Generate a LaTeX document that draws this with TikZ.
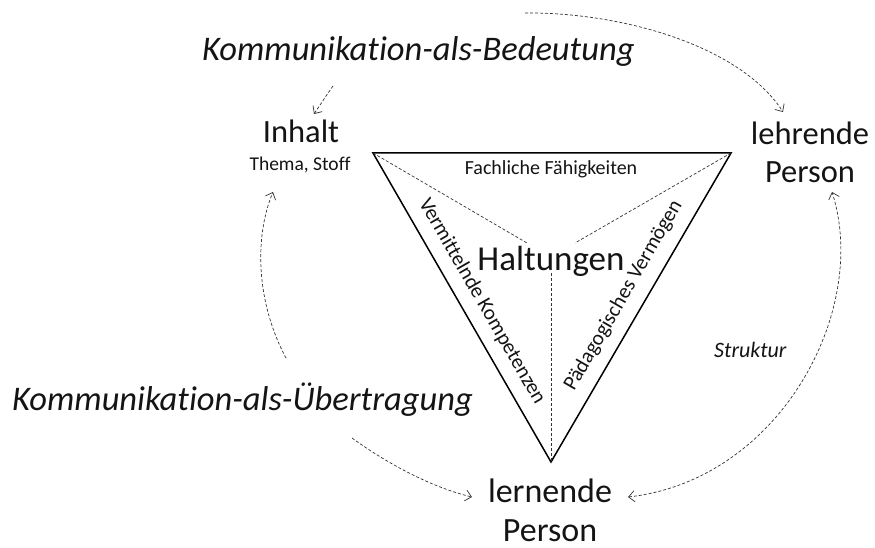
\documentclass[tikz,border=0pt]{standalone}
\usepackage{fontspec}
\setmainfont{Carlito}[Ligatures=NoCommon]
\usetikzlibrary{arrows.meta}
\begin{document}
\begin{tikzpicture}[x=1pt,y=-1pt,
  lbl/.style={inner sep=0pt, anchor=base, text=black!92},
  big/.style={lbl, font=\fontsize{32.5}{38}\selectfont},
  concept/.style={lbl, anchor=base west, font=\itshape\fontsize{34.5}{40}\selectfont},
  small/.style={lbl, font=\fontsize{19.5}{22}\selectfont},
  edgetext/.style={inner sep=0pt, text=black!92, font=\fontsize{21}{24}\selectfont},
  frame/.style={line width=1.5pt, line join=miter},
  guide/.style={dash pattern=on 3pt off 2pt, line width=0.7pt, black!80},
  flow/.style={guide, -{Straight Barb[length=6pt,width=11pt]}},
  twoway/.style={guide, {Straight Barb[length=6pt,width=11pt]}-{Straight Barb[length=6pt,width=11pt]}},
]
\useasboundingbox (0,0) rectangle (875,548);

% triangle of competences
\coordinate (tl) at (373,153);
\coordinate (tr) at (731,153);
\coordinate (bt) at (551,462);
\coordinate (hl) at (527,243);
\coordinate (hr) at (575,243);
\coordinate (hb) at (551,273);
\draw[frame] (tl) -- (tr) -- (bt) -- cycle;
\draw[guide] (tl) -- (hl);
\draw[guide] (tr) -- (hr);
\draw[guide] (hb) -- (bt);

\node[small, font=\fontsize{20}{24}\selectfont] (fach) at (551,175) {Fachliche Fähigkeiten};
\node[big, font=\fontsize{35}{40}\selectfont] (halt) at (551,270) {Haltungen};
\node[edgetext, rotate=-60] (verm) at (482,301.5) {Vermittelnde Kompetenzen};
\node[edgetext, rotate=60] (paed) at (623.5,295.5) {Pädagogisches Vermögen};

% corner labels
\node[big] (inhalt) at (301,143) {Inhalt};
\node[small] (thema) at (300,171) {Thema, Stoff};
\node[big] (lehr1) at (810,145) {lehrende};
\node[big] (lehr2) at (810,183) {Person};
\node[big, font=\fontsize{34}{40}\selectfont] (lern1) at (550,502) {lernende};
\node[big, font=\fontsize{34}{40}\selectfont] (lern2) at (550,541) {Person};

% kinds of communication
\node[concept] (bedeutung) at (202,61) {Kommunikation-als-Bedeutung};
\node[concept] (uebertragung) at (12,410) {Kommunikation-als-Übertragung};
\node[concept, font=\itshape\fontsize{22}{26}\selectfont] (struktur) at (714,357) {Struktur};

% dashed connectors
\coordinate (b0) at (525,13);
\coordinate (b1) at (783,112);
\draw[flow] (b0) .. controls (620,12) and (740,45) .. (b1);
\coordinate (m0) at (333,86);
\coordinate (m1) at (314,114);
\draw[flow] (m0) .. controls (326,96) .. (m1);
\coordinate (u0) at (286,358);
\coordinate (u1) at (273,192);
\draw[flow] (u0) .. controls (255,300) and (255,235) .. (u1);
\coordinate (d0) at (352,438);
\coordinate (d1) at (472,497);
\draw[flow] (d0) .. controls (385,462) and (430,487) .. (d1);
\coordinate (s0) at (628,497);
\coordinate (s1) at (832,192);
\draw[twoway] (s0) .. controls (780,480) and (870,310) .. (s1);
\end{tikzpicture}
\end{document}
